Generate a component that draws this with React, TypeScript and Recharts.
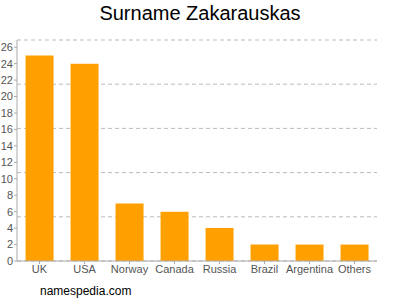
import { BarChart, Bar, XAxis, YAxis, CartesianGrid } from "recharts"

const countries = ["UK", "USA", "Norway", "Canada", "Russia", "Brazil", "Argentina", "Others"]
const counts = [25, 24, 7, 6, 4, 2, 2, 2]
const yTicks = [0, 2, 4, 6, 8, 10, 12, 14, 16, 18, 20, 22, 24, 26]

const data = countries.map((name, i) => ({ name, count: counts[i] }))

// axis top sits a bit above the biggest bar, grid splits it in 5
const yMax = Math.max(...counts) * 1.075
const gridTicks = [0, 1, 2, 3, 4, 5].map((i) => (yMax * i) / 5)

const font = "'Liberation Sans', Arial, sans-serif"

export default function App() {
  return (
    <div style={{ position: "absolute", left: 0, top: 0, width: 400, height: 300, background: "#fff", fontFamily: font }}>
      <div style={{ position: "absolute", top: 2, left: 0, width: 400, textAlign: "center", fontSize: 20, color: "#000" }}>
        Surname Zakarauskas
      </div>
      <BarChart
        width={400}
        height={300}
        data={data}
        margin={{ top: 40, right: 23, bottom: 19, left: 0 }}
        barCategoryGap="19%"
      >
        <CartesianGrid vertical={false} horizontalValues={gridTicks} stroke="#bbb" strokeDasharray="4 3" />
        <XAxis
          dataKey="name"
          interval={0}
          height={20}
          tickSize={3}
          tickMargin={1}
          stroke="#aaa"
          tick={{ fill: "#555", fontSize: 11, fontFamily: font }}
        />
        <YAxis
          domain={[0, yMax]}
          ticks={yTicks}
          interval={0}
          width={17}
          tickSize={3}
          tickMargin={1}
          stroke="#aaa"
          tick={{ fill: "#555", fontSize: 11, fontFamily: font }}
        />
        <Bar dataKey="count" fill="#ffa000" isAnimationActive={false} />
      </BarChart>
      <div style={{ position: "absolute", top: 284, left: 40, fontSize: 12, color: "#000" }}>namespedia.com</div>
    </div>
  )
}
